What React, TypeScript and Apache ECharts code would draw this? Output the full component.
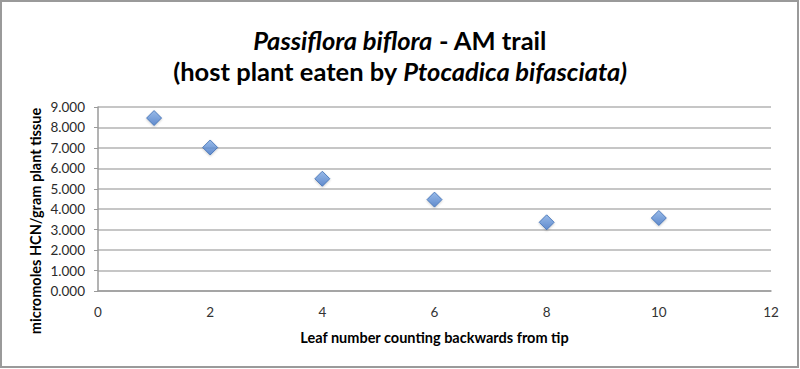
import React, { useEffect, useRef } from "react";
import * as echarts from "echarts";

const leafNumbers = [1, 2, 4, 6, 8, 10];
const hcnValues = [8.46, 7.02, 5.49, 4.47, 3.36, 3.57];
const titleLine1 = "{i|Passiflora biflora}{n| - AM trail}";
const titleLine2 = "{n|(host plant eaten by }{i|Ptocadica bifasciata)}";
const yAxisName = "micromoles HCN/gram plant tissue";
const xAxisName = "Leaf number counting backwards from tip";

export default function App() {
  const ref = useRef<HTMLDivElement>(null);
  useEffect(() => {
    if (!ref.current) return;
    const chart = echarts.init(ref.current, null, { renderer: "svg" });
    const font = "Lato, 'Open Sans', sans-serif";
    const tSize = 25.5;
    const titleRich = {
      i: { fontFamily: font, fontSize: tSize, fontWeight: "bold", fontStyle: "italic", color: "#000", lineHeight: 26 },
      n: { fontFamily: font, fontSize: tSize, fontWeight: "bold", color: "#000", lineHeight: 26 },
    };
    chart.setOption({
      animation: false,
      backgroundColor: "#fff",
      title: [
        {
          text: titleLine1,
          left: "center",
          top: 27,
          padding: 0,
          textStyle: { rich: titleRich, fontFamily: font, fontSize: tSize, fontWeight: "bold", lineHeight: 26 },
        },
        {
          text: titleLine2,
          left: "center",
          top: 58,
          padding: 0,
          textStyle: { rich: titleRich, fontFamily: font, fontSize: tSize, fontWeight: "bold", lineHeight: 26 },
        },
      ],
      graphic: [
        {
          type: "rect",
          shape: { x: 1, y: 1, width: 797, height: 366 },
          style: { fill: "none", stroke: "#9a9a9a", lineWidth: 2 },
          silent: true,
        },
        {
          type: "text",
          x: 35,
          y: 221,
          rotation: Math.PI / 2,
          style: {
            text: yAxisName,
            fontFamily: font,
            fontSize: 14.5,
            fontWeight: "bold",
            fill: "#000",
            align: "center",
            verticalAlign: "middle",
          },
          silent: true,
        },
      ],
      grid: { left: 98, right: 29, top: 107, bottom: 78 },
      xAxis: {
        type: "value",
        min: 0,
        max: 12,
        interval: 2,
        name: xAxisName,
        nameLocation: "middle",
        nameGap: 39,
        nameTextStyle: { fontFamily: font, fontSize: 14.5, fontWeight: "bold", color: "#000" },
        axisLine: { show: true, lineStyle: { color: "#9a9a9a", width: 1.5 } },
        axisTick: { show: false },
        splitLine: { show: false },
        axisLabel: { fontFamily: font, fontSize: 13.5, color: "#333", margin: 14 },
      },
      yAxis: {
        type: "value",
        min: 0,
        max: 9,
        interval: 1,
        axisLine: { show: true, lineStyle: { color: "#9a9a9a", width: 1.5 } },
        axisTick: { show: true, length: 4, lineStyle: { color: "#9a9a9a" } },
        splitLine: { show: true, lineStyle: { color: "#b3b3b3", width: 1.5 } },
        axisLabel: {
          fontFamily: font,
          fontSize: 13.5,
          color: "#2a2a2a",
          margin: 13,
          formatter: (v: number) => v.toFixed(3),
        },
      },
      series: [
        {
          type: "scatter",
          symbol: "diamond",
          symbolSize: 15,
          data: leafNumbers.map((x, i) => [x, hcnValues[i]]),
          itemStyle: {
            color: new echarts.graphic.LinearGradient(0, 0, 0, 1, [
              { offset: 0, color: "#86b0e8" },
              { offset: 1, color: "#4478c8" },
            ]),
            borderColor: "#3a6ab2",
            borderWidth: 1,
            shadowColor: "rgba(0,0,0,0.25)",
            shadowBlur: 2,
            shadowOffsetY: 1,
          },
        },
      ],
    });
    return () => chart.dispose();
  }, []);
  return (
    <div
      ref={ref}
      style={{ position: "fixed", left: 0, top: 0, width: 800, height: 369 }}
    />
  );
}
